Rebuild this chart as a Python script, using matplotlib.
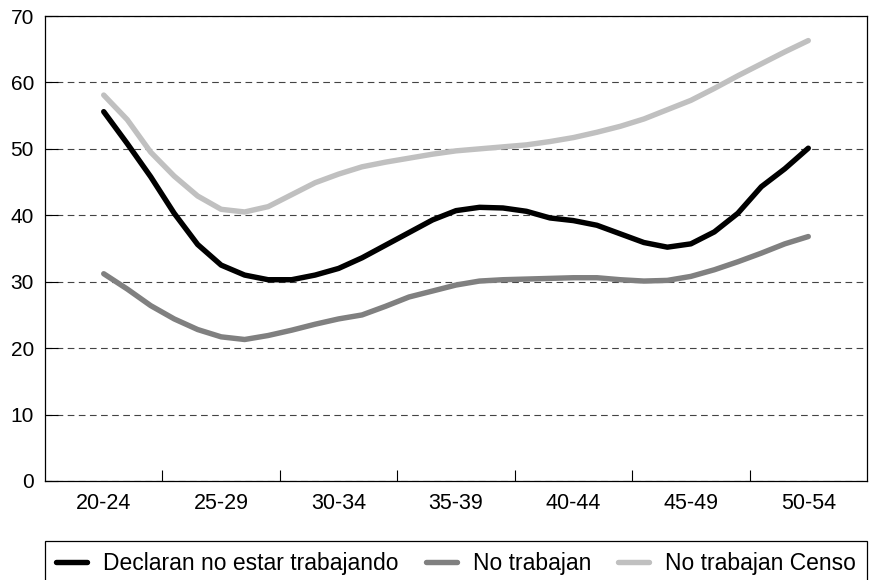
import matplotlib.pyplot as plt

plt.rcParams['font.family'] = ['Liberation Sans', 'DejaVu Sans']

# age groups shown on the x axis
groups = ['20-24', '25-29', '30-34', '35-39', '40-44', '45-49', '50-54']
group_start = [20, 25, 30, 35, 40, 45, 50]

# single ages, plotted from the middle of the first group to the middle of the last
ages = list(range(22, 53))

declaran = [55.6, 50.8, 45.8, 40.3, 35.6, 32.5, 31.0, 30.3, 30.3, 31.0,
            32.0, 33.6, 35.5, 37.4, 39.3, 40.7, 41.2, 41.1, 40.6, 39.6,
            39.2, 38.5, 37.2, 35.9, 35.2, 35.7, 37.5, 40.3, 44.3, 47.0,
            50.1]
no_trabajan = [31.2, 28.9, 26.4, 24.4, 22.8, 21.7, 21.3, 21.9, 22.7, 23.6,
               24.4, 25.0, 26.3, 27.7, 28.6, 29.5, 30.1, 30.3, 30.4, 30.5,
               30.6, 30.6, 30.3, 30.1, 30.2, 30.8, 31.8, 33.0, 34.3, 35.7,
               36.8]
censo = [58.1, 54.4, 49.5, 45.9, 42.9, 40.9, 40.5, 41.3, 43.1, 44.9,
         46.2, 47.3, 48.0, 48.6, 49.2, 49.7, 50.0, 50.3, 50.6, 51.1,
         51.7, 52.5, 53.4, 54.5, 55.9, 57.3, 59.1, 61.0, 62.8, 64.6,
         66.3]

fig = plt.figure(figsize=(8.69, 5.80), dpi=100)
ax = fig.add_axes([0.0518, 0.1707, 0.9459, 0.8017])

style = dict(lw=3.9, solid_joinstyle='round', solid_capstyle='round')
ax.plot(ages, declaran, color='black', label='Declaran no estar trabajando', **style)
ax.plot(ages, no_trabajan, color='#808080', label='No trabajan', **style)
ax.plot(ages, censo, color='#c0c0c0', label='No trabajan Censo', **style)

ax.set_ylim(0, 70)
ax.set_yticks(range(0, 71, 10))
ax.set_xlim(group_start[0] - 0.5, group_start[-1] + 4.5)

centers = [g + 2 for g in group_start]
bounds = [g - 0.5 for g in group_start[1:]]
ax.set_xticks(bounds)
ax.set_xticklabels([])
ax.set_xticks(centers, minor=True)
ax.set_xticklabels(groups, minor=True)
ax.tick_params(axis='x', which='major', direction='in', length=8, width=0.8)
ax.tick_params(axis='x', which='minor', length=0, pad=9, labelsize=15.5)
ax.tick_params(axis='y', direction='in', length=9, width=0.8, pad=8, labelsize=15)

ax.yaxis.grid(True, color='#444444', lw=0.8, linestyle=(0, (6, 4)))
ax.set_axisbelow(True)
for s in ax.spines.values():
    s.set_linewidth(0.9)
    s.set_color('black')

leg = ax.legend(loc='upper left', bbox_to_anchor=(0, -0.129, 1.0, 0), mode='expand',
                ncol=3, fontsize=16.5, frameon=True, fancybox=False, framealpha=1,
                handlelength=1.35, handletextpad=0.7, columnspacing=1.0,
                borderaxespad=0, borderpad=0.5)
leg.get_frame().set_edgecolor('black')
leg.get_frame().set_linewidth(0.9)

fig.savefig('out.png', dpi=100)
